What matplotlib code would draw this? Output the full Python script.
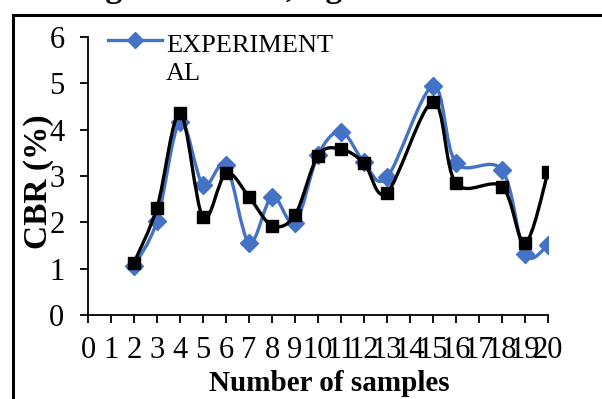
import matplotlib
matplotlib.use("Agg")
import matplotlib.pyplot as plt
from matplotlib.path import Path
from matplotlib.patches import PathPatch, Rectangle
from matplotlib.lines import Line2D

# ---------- Data ----------
samples = [2, 3, 4, 5, 6, 7, 8, 9, 10, 11, 12, 13, 15, 16, 18, 19, 20]
experimental = [1.06, 2.03, 4.17, 2.81, 3.24, 1.56, 2.55, 1.99, 3.45, 3.96,
                3.30, 2.97, 4.94, 3.28, 3.13, 1.31, 1.51]
predicted = [1.13, 2.32, 4.35, 2.11, 3.06, 2.55, 1.93, 2.16, 3.44, 3.58,
             3.28, 2.64, 4.60, 2.84, 2.77, 1.55, 3.08]
x_ticks = list(range(0, 21))
y_ticks = [0, 1, 2, 3, 4, 5, 6]

BLUE = "#4472C4"
SERIF = "Liberation Serif"
plt.rcParams["font.family"] = [SERIF, "DejaVu Serif"]


# ---------- Smooth line (Excel-like bezier) ----------
def smooth_path(xs, ys):
    pts = list(zip(xs, ys))
    n = len(pts)
    verts = [pts[0]]
    codes = [Path.MOVETO]
    for i in range(n - 1):
        p0 = pts[i - 1] if i > 0 else pts[i]
        p1 = pts[i]
        p2 = pts[i + 1]
        p3 = pts[i + 2] if i + 2 < n else pts[i + 1]
        c1 = (p1[0] + (p2[0] - p0[0]) / 6, p1[1] + (p2[1] - p0[1]) / 6)
        c2 = (p2[0] - (p3[0] - p1[0]) / 6, p2[1] - (p3[1] - p1[1]) / 6)
        verts += [c1, c2, p2]
        codes += [Path.CURVE4] * 3
    return Path(verts, codes)


fig = plt.figure(figsize=(6.02, 3.99), dpi=100)
ax = fig.add_axes([88 / 602, 1 - 315 / 399, 460 / 602, 278 / 399])

ax.add_patch(PathPatch(smooth_path(samples, experimental), facecolor="none",
                       edgecolor=BLUE, lw=2.4, capstyle="round", zorder=2))
ax.plot(samples, experimental, linestyle="none", marker="D", markersize=9,
        color=BLUE, zorder=3)
ax.add_patch(PathPatch(smooth_path(samples, predicted), facecolor="none",
                       edgecolor="black", lw=2.4, capstyle="round", zorder=4))
ax.plot(samples, predicted, linestyle="none", marker="s", markersize=8,
        color="black", zorder=5)

ax.set_xlim(0, 20)
ax.set_ylim(0, 6)
ax.set_xticks(x_ticks)
ax.set_yticks(y_ticks)
for s in ["top", "right"]:
    ax.spines[s].set_visible(False)
for s in ["left", "bottom"]:
    ax.spines[s].set_linewidth(1.3)
ax.tick_params(axis="both", direction="out", length=6, width=1.3,
               labelsize=22)
ax.tick_params(axis="y", pad=11)
ax.tick_params(axis="x", pad=9)

ax.set_ylabel("CBR (%)", fontsize=24, fontweight="bold")
ax.yaxis.set_label_coords(-0.074, 0.48)
ax.set_xlabel("Number of samples", fontsize=21, fontweight="bold")
ax.xaxis.set_label_coords(0.524, -0.198)

# legend (only first entry visible)
ax.add_line(Line2D([0.0435, 0.102, 0.161], [0.989, 0.989, 0.989],
                   transform=ax.transAxes, color=BLUE, lw=2.4, marker="D",
                   markersize=8, markevery=[1], clip_on=False))
ax.text(0.1696, 0.946, "EXPERIMENT", transform=ax.transAxes, fontsize=19,
        va="baseline", ha="left")
ax.text(0.1696, 0.845, "AL", transform=ax.transAxes, fontsize=19,
        va="baseline", ha="left")

# frame around the chart and cut-off caption above
fig.patches.append(Rectangle((13 / 602, -0.2), 1.2, 1.2 - 15 / 399,
                             transform=fig.transFigure, fill=False,
                             lw=2.2, edgecolor="black"))
for xr, frag in [(122, "ng"), (294, "s,"), (342, "ng")]:
    fig.text(xr / 602, 1 + 3 / 399, frag, fontsize=24, fontweight="bold",
             ha="right", va="baseline")

fig.savefig("out.png", dpi=100)
